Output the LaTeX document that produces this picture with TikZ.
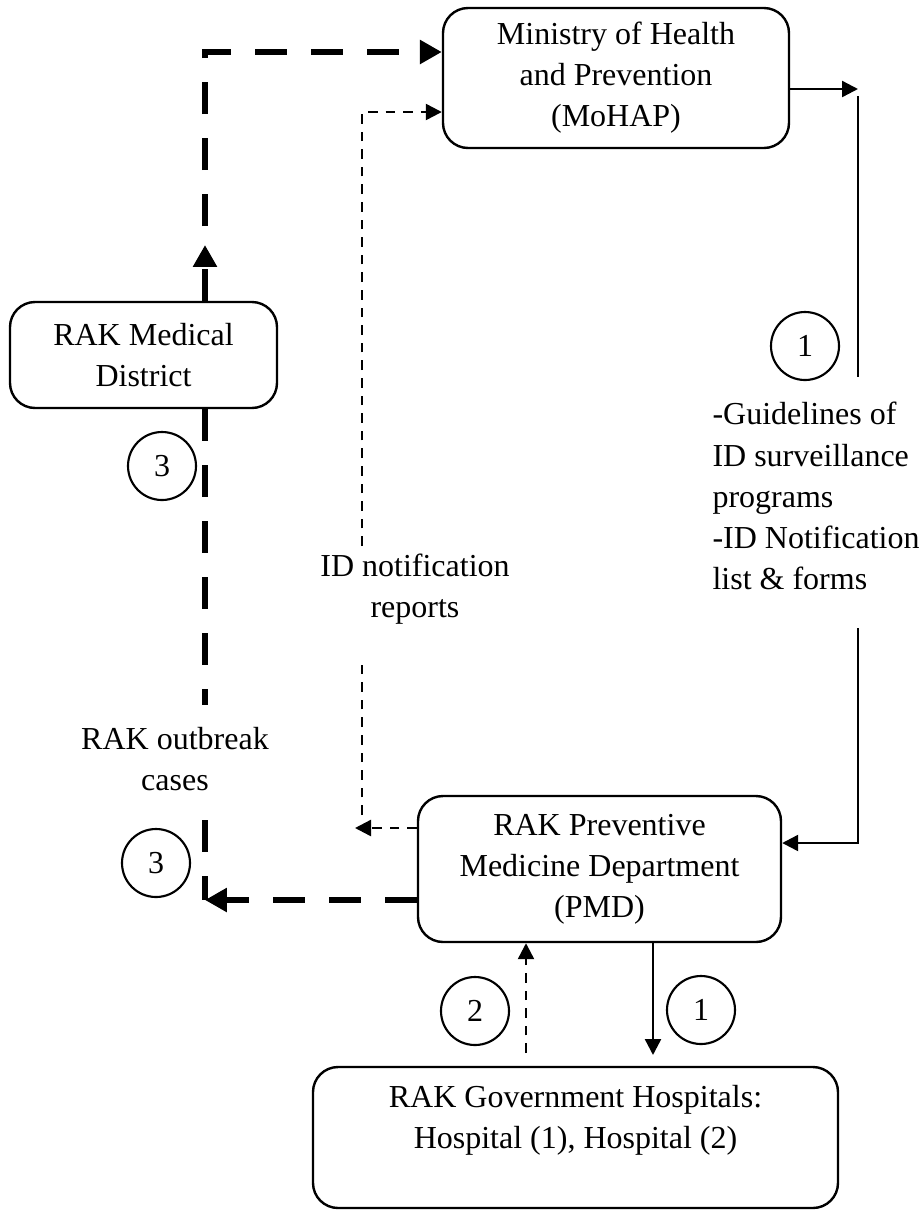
\documentclass[tikz,border=0pt]{standalone}
\usepackage{fontspec}
\setmainfont{Liberation Serif}
\usetikzlibrary{arrows.meta,calc}
\begin{document}
\begin{tikzpicture}[x=0.375pt,y=-0.375pt,
  font=\fontsize{12}{15.4}\selectfont,
  box/.style={draw,line width=0.9pt,rounded corners=9.4pt,align=center,inner sep=0pt},
  num/.style={draw,circle,line width=0.8pt,minimum size=68*0.375pt,inner sep=0pt},
  lbl/.style={align=center,inner sep=0pt},
  thinline/.style={line width=0.9pt},
  thinarr/.style={-{Triangle[length=6pt,width=6pt]}},
  fine/.style={line width=0.9pt,dash pattern=on 3.6pt off 3pt},
  heavy/.style={line width=2.6pt,dash pattern=on 12pt off 9pt},
  heavyarr/.style={-{Triangle[length=8.2pt,width=8.6pt]}},
]
\useasboundingbox (0,0) rectangle (921,1211);

% boxes
\node[box,minimum width=346*0.375pt,minimum height=140*0.375pt] (moh) at (616,78) {Ministry of Health\\and Prevention\\(MoHAP)};
\node[box,minimum width=267*0.375pt,minimum height=106*0.375pt] (md) at (143.5,355) {RAK Medical\\District};
\node[box,minimum width=363*0.375pt,minimum height=146*0.375pt] (pmd) at (599.5,869) {RAK Preventive\\Medicine Department\\(PMD)};
\node[box,minimum width=525*0.375pt,minimum height=141*0.375pt] (hosp) at (575.5,1137.5) {RAK Government Hospitals:\\Hospital (1), Hospital (2)\\\mbox{}};

% labels
\node[lbl] (idn) at (415,589) {ID notification\\reports};
\node[lbl] (rob) at (175,759) {RAK outbreak\\cases};
\node[lbl,align=left,anchor=west] (gl) at (712,496) {-Guidelines of\\ID surveillance\\programs\\-ID Notification\\list \& forms};

% circles
\node[num] (c1) at (805,346) {1};
\node[num] (c3a) at (162,466) {3};
\node[num] (c3b) at (156,863) {3};
\node[num] (c2) at (475,1011) {2};
\node[num] (c1b) at (701,1010) {1};

% heavy dashed: Medical District -> MoHAP
\coordinate (tA) at (205,245);
\coordinate (tB) at (205,226);
\coordinate (tC) at (205,52);
\draw[heavy,heavyarr] (tA |- md.north) -- (tA);
\draw[heavy,heavyarr] (tB) -- (tC) -- (tC -| moh.west);

% heavy dashed: PMD -> Medical District
\coordinate (bA) at (205,705);
\coordinate (bB) at (205,820);
\coordinate (bC) at (205,900);
\draw[heavy] (tA |- md.south) -- (bA);
\draw[heavy] (bB) -- (bC);
\draw[heavy,heavyarr] (bC -| pmd.west) -- (bC);

% fine dashed: ID notification reports
\coordinate (nA) at (355,828);
\coordinate (nB) at (362,815);
\coordinate (nC) at (362,662);
\coordinate (nD) at (362,546);
\coordinate (nE) at (362,112);
\draw[fine,thinarr] (nA -| pmd.west) -- (nA);
\draw[fine] (nB) -- (nC);
\draw[fine,thinarr] (nD) -- (nE) -- (nE -| moh.west);

% solid: MoHAP -> PMD
\coordinate (rA) at (858,89);
\coordinate (rB) at (858,96);
\coordinate (rC) at (858,377);
\coordinate (rD) at (858,628);
\coordinate (rE) at (858,843);
\draw[thinline,thinarr] (rA -| moh.east) -- (rA);
\draw[thinline] (rB) -- (rC);
\draw[thinline,thinarr] (rD) -- (rE) -- (rE -| pmd.east);

% PMD <-> hospitals
\coordinate (hA) at (526,1053);
\coordinate (hB) at (653,1055);
\draw[fine,thinarr] (hA) -- (hA |- pmd.south);
\draw[thinline,thinarr] (hB |- pmd.south) -- (hB);
\end{tikzpicture}
\end{document}
